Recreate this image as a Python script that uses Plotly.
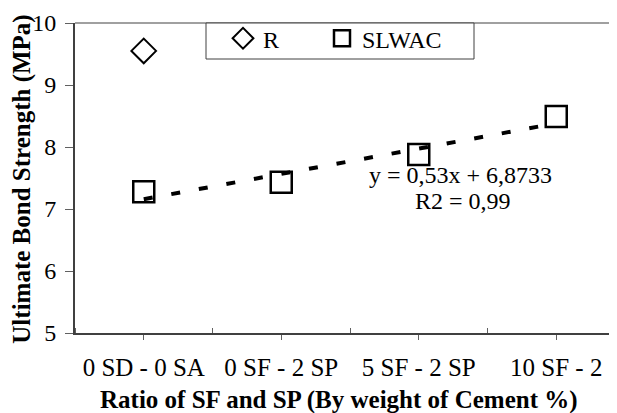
import numpy as np
import plotly.graph_objects as go

# ---- data ----
categories = ["0 SD - 0 SA", "0 SF - 2 SP", "5 SF - 2 SP", "10 SF - 2"]
r_values = [9.55]
slwac_values = [7.28, 7.43, 7.88, 8.49]
y_ticks = [5, 6, 7, 8, 9, 10]
equation_text = "y = 0,53x + 6,8733"
r2_text = "R2 = 0,99"

FONT = "Liberation Serif, Times New Roman, serif"

xs = list(range(len(categories)))
slope, intercept = np.polyfit(np.array(xs) + 1, slwac_values, 1)
trend_y = [slope * (x + 1) + intercept for x in xs]

fig = go.Figure()
fig.add_trace(go.Scatter(
    x=xs[:len(r_values)], y=r_values, mode="markers", name="R", legend="legend",
    marker=dict(symbol="diamond-open", size=19, color="black", line=dict(width=2, color="black")),
))
fig.add_trace(go.Scatter(
    x=xs, y=slwac_values, mode="markers", name="SLWAC", legend="legend2",
    marker=dict(symbol="square-open", size=21, color="black", line=dict(width=2.5, color="black")),
))
fig.add_trace(go.Scatter(
    x=[xs[0], xs[-1]], y=[trend_y[0], trend_y[-1]], mode="lines", showlegend=False,
    line=dict(color="black", width=4, dash="9px,19px"), hoverinfo="skip",
))

PW, PH = 550, 310
def px(x):
    return (x - 75) / PW
def py(y):
    return (333.3 - y) / PH

legend_common = dict(
    orientation="h", yanchor="middle", xanchor="left", y=py(39),
    bgcolor="rgba(0,0,0,0)", borderwidth=0,
    font=dict(family=FONT, size=24, color="black"),
)

fig.update_layout(
    width=617, height=413,
    margin=dict(l=67, r=0, t=15, b=88),
    paper_bgcolor="white", plot_bgcolor="white",
    font=dict(family=FONT, size=24, color="black"),
    showlegend=True,
    legend=dict(x=px(223), **legend_common),
    legend2=dict(x=px(322), **legend_common),
    xaxis=dict(
        range=[-0.5, 3.5], tickvals=xs, ticktext=categories,
        showgrid=False, zeroline=False, showline=True, linecolor="#404040", linewidth=2,
        ticks="outside", ticklen=5, tickcolor="#606060", tickwidth=1,
        minor=dict(ticks="inside", tick0=0.5, dtick=1, ticklen=5, tickcolor="#606060", tickwidth=1, showgrid=False),
        tickfont=dict(family=FONT, size=25, color="black"),
        ticklabelstandoff=6,
    ),
    yaxis=dict(
        range=[5, 10], tickvals=y_ticks,
        showgrid=False, zeroline=False, showline=True, linecolor="#404040", linewidth=2,
        ticks="outside", ticklen=8, tickcolor="#606060", tickwidth=1,
        tickfont=dict(family=FONT, size=24, color="black"),
        ticklabelstandoff=4,
    ),
    shapes=[
        dict(type="line", xref="paper", yref="paper", x0=0, x1=1, y0=1, y1=1,
             line=dict(color="#808080", width=1.5)),
        dict(type="rect", xref="paper", yref="paper",
             x0=px(206), x1=px(474), y0=py(59.3), y1=1,
             fillcolor="white", line=dict(color="#404040", width=1), layer="above"),
    ],
    annotations=[
        dict(text="<b>Ratio of SF and SP (By weight of Cement %)</b>", xref="paper", yref="paper",
             x=px(339), y=py(400), xanchor="center", yanchor="middle", showarrow=False,
             font=dict(family=FONT, size=25, color="black")),
        dict(text="<b>Ultimate Bond Strength (MPa)</b>", xref="paper", yref="paper",
             x=px(22), y=py(180), xanchor="center", yanchor="middle", showarrow=False, textangle=-90,
             font=dict(family=FONT, size=25, color="black")),
        dict(text=equation_text, xref="paper", yref="paper", x=px(460.5), y=py(175),
             xanchor="center", yanchor="middle", showarrow=False,
             font=dict(family=FONT, size=24, color="black")),
        dict(text=r2_text, xref="paper", yref="paper", x=px(463), y=py(201.7),
             xanchor="center", yanchor="middle", showarrow=False,
             font=dict(family=FONT, size=24, color="black")),
    ],
)

fig.write_html("out.html")
